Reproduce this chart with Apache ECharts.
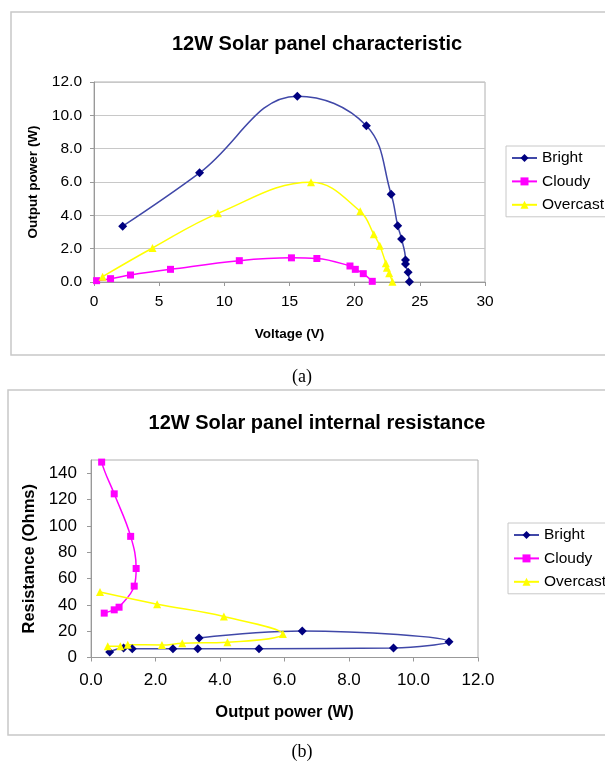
<!DOCTYPE html>
<html>
<head>
<meta charset="utf-8">
<script src="https://cdn.jsdelivr.net/npm/echarts@6/dist/echarts.min.js"></script>
<style>
  html, body { margin: 0; padding: 0; background: #fff; }
  #chart { width: 605px; height: 762px; }
</style>
</head>
<body>
<div id="chart"></div>
<script>
// (a) output power vs voltage
const voltBright = [2.2, 8.1, 15.6, 20.9, 22.8, 23.3, 23.6, 23.9, 23.9, 24.1, 24.2];
const powBright = [3.35, 6.55, 11.15, 9.38, 5.26, 3.38, 2.58, 1.32, 1.08, 0.58, 0.02];
const voltCloudy = [0.2, 1.27, 2.8, 5.87, 11.15, 15.15, 17.1, 19.64, 20.05, 20.66, 21.35];
const powCloudy = [0.08, 0.2, 0.42, 0.76, 1.28, 1.45, 1.41, 0.96, 0.76, 0.5, 0.04];
const voltOvercast = [0.66, 4.49, 9.51, 16.65, 20.43, 21.47, 21.93, 22.39, 22.47, 22.65, 22.9];
const powOvercast = [0.32, 2.04, 4.12, 5.98, 4.24, 2.86, 2.18, 1.12, 0.86, 0.52, 0.02];

// (b) internal resistance vs output power
const resPowBright = [3.35, 6.55, 11.1, 9.38, 5.21, 3.31, 2.54, 1.28, 1.01, 0.58];
const resBright = [14.9, 20.2, 12.0, 7.2, 6.7, 6.7, 6.7, 6.7, 7.2, 4.2];
const resPowCloudy = [0.2, 0.33, 0.72, 1.23, 1.4, 1.34, 0.87, 0.72, 0.41];
const resCloudy = [170, 148.4, 124.3, 92, 67.6, 54.2, 38.2, 36.2, 33.7];
const resPowOvercast = [0.28, 2.05, 4.12, 5.95, 4.23, 2.83, 2.2, 1.14, 0.91, 0.52];
const resOvercast = [49.7, 40.5, 31.1, 17.9, 11.6, 10.8, 9.5, 9.7, 8.5, 8.5];

const seriesNames = ["Bright", "Cloudy", "Overcast"];

const FONT = "Liberation Sans, Arial, sans-serif";

const styles = {
  Bright: { symbol: "diamond", size: 9, item: "#000080", line: "#4048a8" },
  Cloudy: { symbol: "rect", size: 7, item: "#ff00ff", line: "#ff00ff" },
  Overcast: { symbol: "triangle", size: 8, item: "#ffff00", line: "#ffff00" },
};

function pairs(xs, ys) {
  return xs.map((x, i) => [x, ys[i]]);
}

function makeSeries(name, idx, xs, ys) {
  const s = styles[name];
  return {
    name: name,
    type: "line",
    xAxisIndex: idx,
    yAxisIndex: idx,
    data: pairs(xs, ys),
    smooth: 0.4,
    symbol: s.symbol,
    symbolSize: s.size,
    showAllSymbol: true,
    clip: true,
    itemStyle: { color: s.item },
    lineStyle: { color: s.line, width: 1.5 },
    emphasis: { disabled: true },
  };
}

function makeLegend(left, top) {
  return {
    data: seriesNames,
    orient: "vertical",
    left: left,
    top: top,
    padding: [4, 10, 4, 5],
    itemWidth: 25,
    itemHeight: 10,
    itemGap: 7.4,
    borderColor: "#c8c8c8",
    borderWidth: 1,
    borderRadius: 0,
    textStyle: { fontFamily: FONT, fontSize: 15.5, lineHeight: 16, color: "#000" },
  };
}

const axisLine = { show: true, lineStyle: { color: "#999", width: 1 } };
const axisTick = { show: true, inside: false, length: 4, lineStyle: { color: "#999" } };

const chart = echarts.init(document.getElementById("chart"), null, { renderer: "canvas" });

chart.setOption({
  animation: false,
  backgroundColor: "#fff",
  title: [
    {
      text: "12W Solar panel characteristic",
      left: 312,
      textAlign: "center",
      top: 29,
      textStyle: { fontFamily: FONT, fontSize: 20, fontWeight: "bold", color: "#000" },
    },
    {
      text: "12W Solar panel internal resistance",
      left: 312,
      textAlign: "center",
      top: 408,
      textStyle: { fontFamily: FONT, fontSize: 20, fontWeight: "bold", color: "#000" },
    },
  ],
  legend: [makeLegend(506, 146), makeLegend(508, 523)],
  grid: [
    { left: 94, top: 82, width: 391, height: 200, show: true, borderColor: "#b0b0b0", borderWidth: 1 },
    { left: 91, top: 460, width: 387, height: 197.5, show: true, borderColor: "#b0b0b0", borderWidth: 1 },
  ],
  xAxis: [
    {
      gridIndex: 0,
      type: "value",
      min: 0,
      max: 30,
      interval: 5,
      name: "Voltage (V)",
      nameLocation: "middle",
      nameGap: 45,
      nameTextStyle: { fontFamily: FONT, fontSize: 13.5, fontWeight: "bold", color: "#000" },
      axisLine: axisLine,
      axisTick: axisTick,
      splitLine: { show: false },
      axisLabel: { fontFamily: FONT, fontSize: 15.5, color: "#000", margin: 12 },
    },
    {
      gridIndex: 1,
      type: "value",
      min: 0,
      max: 12,
      interval: 2,
      name: "Output power (W)",
      nameLocation: "middle",
      nameGap: 46,
      nameTextStyle: { fontFamily: FONT, fontSize: 16.5, fontWeight: "bold", color: "#000" },
      axisLine: axisLine,
      axisTick: axisTick,
      splitLine: { show: false },
      axisLabel: {
        fontFamily: FONT,
        fontSize: 17,
        color: "#000",
        margin: 14,
        formatter: (v) => v.toFixed(1),
      },
    },
  ],
  yAxis: [
    {
      gridIndex: 0,
      type: "value",
      min: 0,
      max: 12,
      interval: 2,
      name: "Output power (W)",
      nameLocation: "middle",
      nameGap: 54,
      nameTextStyle: { fontFamily: FONT, fontSize: 13.5, fontWeight: "bold", color: "#000" },
      axisLine: axisLine,
      axisTick: axisTick,
      splitLine: { show: true, lineStyle: { color: "#c8c8c8", width: 1 } },
      axisLabel: {
        fontFamily: FONT,
        fontSize: 15.5,
        color: "#000",
        margin: 12,
        formatter: (v) => v.toFixed(1),
      },
    },
    {
      gridIndex: 1,
      type: "value",
      min: 0,
      max: 150,
      interval: 20,
      name: "Resistance (Ohms)",
      nameLocation: "middle",
      nameGap: 51,
      nameTextStyle: { fontFamily: FONT, fontSize: 16.5, fontWeight: "bold", color: "#000" },
      axisLine: axisLine,
      axisTick: axisTick,
      splitLine: { show: false },
      axisLabel: {
        fontFamily: FONT,
        fontSize: 17,
        color: "#000",
        margin: 14,
        showMaxLabel: false,
      },
    },
  ],
  graphic: [
    {
      type: "rect",
      shape: { x: 11, y: 12, width: 620, height: 343 },
      style: { fill: "none", stroke: "#c8c8c8", lineWidth: 1.5 },
      silent: true,
    },
    {
      type: "rect",
      shape: { x: 8, y: 390, width: 620, height: 345 },
      style: { fill: "none", stroke: "#c8c8c8", lineWidth: 1.5 },
      silent: true,
    },
    {
      type: "text",
      x: 302,
      y: 377,
      style: {
        text: "(a)",
        fontFamily: "Liberation Serif, Times New Roman, serif",
        fontSize: 18,
        fill: "#000",
        align: "center",
        verticalAlign: "middle",
      },
      silent: true,
    },
    {
      type: "text",
      x: 302,
      y: 752,
      style: {
        text: "(b)",
        fontFamily: "Liberation Serif, Times New Roman, serif",
        fontSize: 18,
        fill: "#000",
        align: "center",
        verticalAlign: "middle",
      },
      silent: true,
    },
  ],
  series: [
    makeSeries("Bright", 0, voltBright, powBright),
    makeSeries("Cloudy", 0, voltCloudy, powCloudy),
    makeSeries("Overcast", 0, voltOvercast, powOvercast),
    makeSeries("Bright", 1, resPowBright, resBright),
    makeSeries("Cloudy", 1, resPowCloudy, resCloudy),
    makeSeries("Overcast", 1, resPowOvercast, resOvercast),
  ],
});
</script>
</body>
</html>
